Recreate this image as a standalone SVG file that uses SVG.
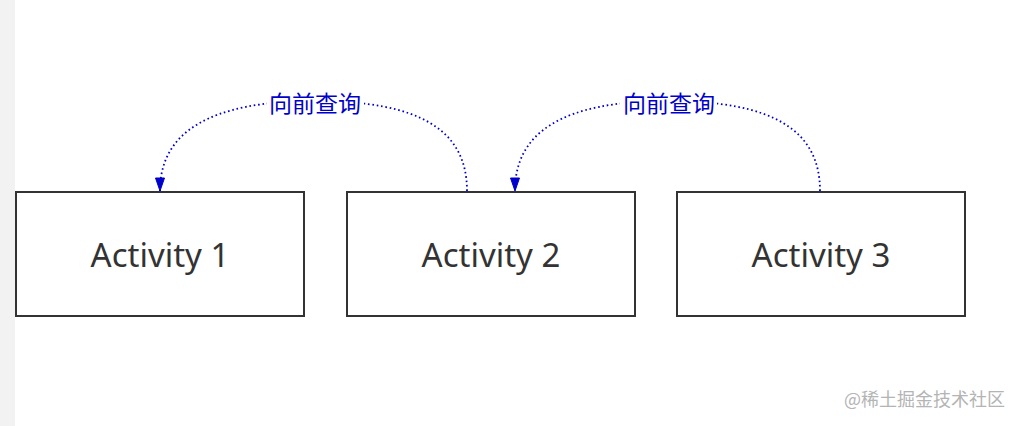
<svg xmlns="http://www.w3.org/2000/svg" width="1021" height="426" viewBox="0 0 1021 426">
  <style>
    .box { fill: #ffffff; stroke: #333333; stroke-width: 2; }
    .lbl { font-family: "Noto Sans", "Open Sans", "DejaVu Sans", sans-serif; font-size: 33px; fill: #333333; text-anchor: middle; }
    .edge { fill: none; stroke: #0000cc; stroke-width: 1.8; stroke-dasharray: 1.6 2.8; }
    .elbl { font-family: "Noto Sans CJK SC", "Noto Sans", sans-serif; font-size: 23px; fill: #0000cc; text-anchor: middle; dominant-baseline: central; }
    .wm { font-family: "Noto Sans CJK SC", "Noto Sans", sans-serif; font-size: 18px; fill: #b4b4b4; text-anchor: end; }
  </style>
  <defs>
    <marker id="arr" markerUnits="userSpaceOnUse" markerWidth="12" markerHeight="16" refX="6" refY="14" orient="0" viewBox="0 0 12 16">
      <path d="M1.5,1 L10.5,1 L6,14 Z" fill="#0000cc" stroke="#0000cc" stroke-width="1"/>
    </marker>
  </defs>
  <rect x="0" y="0" width="1021" height="426" fill="#ffffff"/>
  <rect x="0" y="0" width="15" height="426" fill="#f2f2f2"/>

  <g id="connectors">
    <g id="edge-2-1">
      <path class="edge" d="M467,191 C467,130 420,101 315,101 C210,101 160,132 160,191" marker-end="url(#arr)"/>
      <rect x="267" y="91" width="97" height="24" fill="#ffffff"/>
      <text class="elbl" x="315" y="102">向前查询</text>
    </g>
    <g id="edge-3-2">
      <path class="edge" d="M820,191 C820,130 773,101 668,101 C563,101 515,132 515,191" marker-end="url(#arr)"/>
      <rect x="620" y="91" width="97" height="24" fill="#ffffff"/>
      <text class="elbl" x="669" y="102">向前查询</text>
    </g>
  </g>

  <g id="activity1">
    <rect class="box" x="16" y="192" width="288" height="124"/>
    <text class="lbl" x="160" y="267">Activity 1</text>
  </g>
  <g id="activity2">
    <rect class="box" x="347" y="192" width="288" height="124"/>
    <text class="lbl" x="491" y="267">Activity 2</text>
  </g>
  <g id="activity3">
    <rect class="box" x="677" y="192" width="288" height="124"/>
    <text class="lbl" x="821" y="267">Activity 3</text>
  </g>

  <text class="wm" x="1005" y="406">@稀土掘金技术社区</text>
</svg>
